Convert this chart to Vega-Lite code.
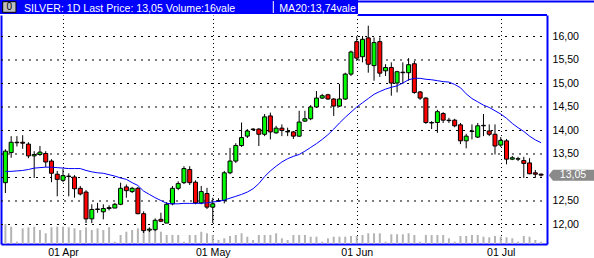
{
  "$schema": "https://vega.github.io/schema/vega-lite/v6.json",
  "width": 546,
  "height": 229,
  "autosize": {"type": "none"},
  "padding": {"left": 1, "top": 15, "right": 47, "bottom": 14},
  "background": "white",
  "config": {
    "view": {"stroke": null},
    "font": "Liberation Sans",
    "axisX": {"grid": true, "gridDash": [1, 3], "gridDashOffset": 0.5, "gridColor": "#000000", "gridWidth": 1, "gridOpacity": 1},
    "axisY": {"grid": false, "tickCount": 10}
  },
  "datasets": {
    "candles": [
      {"i":0,"o":12.89,"h":13.60,"l":12.67,"c":13.56,"v":20,"ma":13.13},
      {"i":1,"o":13.53,"h":13.88,"l":13.42,"c":13.75,"v":17.3,"ma":13.13},
      {"i":2,"o":13.74,"h":13.88,"l":13.66,"c":13.75,"v":2.3,"ma":13.14},
      {"i":3,"o":13.75,"h":13.90,"l":13.61,"c":13.73,"v":15.7,"ma":13.15},
      {"i":4,"o":13.71,"h":13.75,"l":13.41,"c":13.46,"v":16.7,"ma":13.17},
      {"i":5,"o":13.46,"h":13.56,"l":12.99,"c":13.49,"v":17.3,"ma":13.20},
      {"i":6,"o":13.49,"h":13.67,"l":13.46,"c":13.54,"v":14,"ma":13.21},
      {"i":7,"o":13.51,"h":13.56,"l":13.22,"c":13.33,"v":10.7,"ma":13.22},
      {"i":8,"o":13.35,"h":13.39,"l":12.90,"c":13.09,"v":16.7,"ma":13.22},
      {"i":9,"o":13.07,"h":13.14,"l":12.60,"c":12.96,"v":17.3,"ma":13.21},
      {"i":10,"o":12.94,"h":13.18,"l":12.90,"c":13.04,"v":17.3,"ma":13.20},
      {"i":11,"o":13.03,"h":13.09,"l":12.60,"c":13.02,"v":16.7,"ma":13.19},
      {"i":12,"o":13.01,"h":13.05,"l":12.57,"c":12.76,"v":15.7,"ma":13.19},
      {"i":13,"o":12.77,"h":12.82,"l":12.62,"c":12.65,"v":14,"ma":13.19},
      {"i":14,"o":12.69,"h":12.73,"l":12.03,"c":12.12,"v":16.7,"ma":13.15},
      {"i":15,"o":12.12,"h":12.43,"l":12.03,"c":12.32,"v":14,"ma":13.12},
      {"i":16,"o":12.32,"h":12.46,"l":12.25,"c":12.33,"v":15.7,"ma":13.10},
      {"i":17,"o":12.27,"h":12.43,"l":12.11,"c":12.34,"v":14,"ma":13.09},
      {"i":18,"o":12.34,"h":12.41,"l":12.30,"c":12.36,"v":16.7,"ma":13.06},
      {"i":19,"o":12.35,"h":12.46,"l":12.35,"c":12.43,"v":2.3,"ma":13.03},
      {"i":20,"o":12.43,"h":12.89,"l":12.41,"c":12.77,"v":9,"ma":12.99},
      {"i":21,"o":12.80,"h":12.85,"l":12.57,"c":12.72,"v":12.3,"ma":12.96},
      {"i":22,"o":12.70,"h":12.80,"l":12.67,"c":12.77,"v":14,"ma":12.89},
      {"i":23,"o":12.77,"h":12.80,"l":12.22,"c":12.23,"v":15.7,"ma":12.83},
      {"i":24,"o":12.23,"h":12.28,"l":11.82,"c":11.87,"v":15.7,"ma":12.71},
      {"i":25,"o":11.88,"h":11.94,"l":11.84,"c":11.90,"v":15.7,"ma":12.64},
      {"i":26,"o":11.89,"h":12.13,"l":11.86,"c":12.09,"v":14,"ma":12.57},
      {"i":27,"o":12.11,"h":12.25,"l":12.05,"c":12.07,"v":12.3,"ma":12.51},
      {"i":28,"o":12.03,"h":12.48,"l":12.03,"c":12.43,"v":9,"ma":12.45},
      {"i":29,"o":12.44,"h":12.82,"l":12.41,"c":12.77,"v":9,"ma":12.44},
      {"i":30,"o":12.77,"h":12.92,"l":12.73,"c":12.87,"v":9,"ma":12.44},
      {"i":31,"o":12.89,"h":13.24,"l":12.86,"c":13.19,"v":2.3,"ma":12.45},
      {"i":32,"o":13.17,"h":13.24,"l":12.84,"c":12.89,"v":9,"ma":12.45},
      {"i":33,"o":12.90,"h":12.94,"l":12.43,"c":12.46,"v":9,"ma":12.45},
      {"i":34,"o":12.46,"h":12.82,"l":12.43,"c":12.70,"v":12.3,"ma":12.45},
      {"i":35,"o":12.66,"h":12.78,"l":12.33,"c":12.37,"v":10.7,"ma":12.46},
      {"i":36,"o":12.37,"h":12.57,"l":12.03,"c":12.44,"v":9,"ma":12.48},
      {"i":37,"o":12.50,"h":12.56,"l":12.48,"c":12.51,"v":4,"ma":12.49},
      {"i":38,"o":12.51,"h":13.14,"l":12.45,"c":13.10,"v":5.7,"ma":12.52},
      {"i":39,"o":13.10,"h":13.63,"l":13.07,"c":13.35,"v":8,"ma":12.56},
      {"i":40,"o":13.35,"h":13.73,"l":13.31,"c":13.68,"v":9,"ma":12.60},
      {"i":41,"o":13.68,"h":14.17,"l":13.65,"c":13.85,"v":10.7,"ma":12.64},
      {"i":42,"o":13.88,"h":14.03,"l":13.84,"c":13.99,"v":7.3,"ma":12.69},
      {"i":43,"o":14.02,"h":14.05,"l":13.99,"c":14.03,"v":4,"ma":12.76},
      {"i":44,"o":14.03,"h":14.05,"l":13.67,"c":13.92,"v":9,"ma":12.87},
      {"i":45,"o":13.92,"h":14.35,"l":13.88,"c":14.29,"v":9,"ma":13.02},
      {"i":46,"o":14.31,"h":14.38,"l":13.81,"c":13.97,"v":9,"ma":13.14},
      {"i":47,"o":13.95,"h":14.10,"l":13.93,"c":14.05,"v":10.7,"ma":13.24},
      {"i":48,"o":14.05,"h":14.13,"l":13.88,"c":14.00,"v":5.7,"ma":13.33},
      {"i":49,"o":13.97,"h":14.06,"l":13.88,"c":13.98,"v":4,"ma":13.40},
      {"i":50,"o":13.97,"h":13.99,"l":13.82,"c":13.88,"v":9,"ma":13.45},
      {"i":51,"o":13.88,"h":14.42,"l":13.86,"c":14.18,"v":9,"ma":13.49},
      {"i":52,"o":14.20,"h":14.42,"l":14.18,"c":14.25,"v":9,"ma":13.56},
      {"i":53,"o":14.25,"h":14.54,"l":14.22,"c":14.50,"v":7.3,"ma":13.64},
      {"i":54,"o":14.50,"h":14.84,"l":14.48,"c":14.69,"v":7.3,"ma":13.72},
      {"i":55,"o":14.69,"h":14.78,"l":14.67,"c":14.74,"v":2.3,"ma":13.81},
      {"i":56,"o":14.76,"h":14.78,"l":14.65,"c":14.67,"v":5.7,"ma":13.91},
      {"i":57,"o":14.67,"h":14.69,"l":14.31,"c":14.52,"v":7.3,"ma":14.03},
      {"i":58,"o":14.52,"h":14.99,"l":14.50,"c":14.67,"v":7.3,"ma":14.16},
      {"i":59,"o":14.67,"h":15.23,"l":14.65,"c":15.20,"v":7.3,"ma":14.28},
      {"i":60,"o":15.20,"h":15.70,"l":15.16,"c":15.67,"v":8,"ma":14.39},
      {"i":61,"o":15.89,"h":16.01,"l":15.48,"c":15.54,"v":8,"ma":14.50},
      {"i":62,"o":15.57,"h":16.01,"l":15.45,"c":15.94,"v":9,"ma":14.59},
      {"i":63,"o":15.97,"h":16.23,"l":15.23,"c":15.41,"v":10.7,"ma":14.68},
      {"i":64,"o":15.38,"h":15.98,"l":15.06,"c":15.87,"v":10.7,"ma":14.77},
      {"i":65,"o":15.89,"h":15.98,"l":15.14,"c":15.22,"v":10.7,"ma":14.83},
      {"i":66,"o":15.27,"h":15.41,"l":15.16,"c":15.34,"v":2.3,"ma":14.88},
      {"i":67,"o":15.34,"h":15.45,"l":14.74,"c":15.01,"v":9.7,"ma":14.92},
      {"i":68,"o":15.01,"h":15.27,"l":14.81,"c":15.25,"v":9.7,"ma":14.95},
      {"i":69,"o":15.24,"h":15.45,"l":14.99,"c":15.23,"v":9.7,"ma":15.01},
      {"i":70,"o":15.23,"h":15.54,"l":15.06,"c":15.40,"v":10.7,"ma":15.08},
      {"i":71,"o":15.42,"h":15.48,"l":14.78,"c":14.81,"v":9,"ma":15.11},
      {"i":72,"o":14.82,"h":14.84,"l":14.65,"c":14.69,"v":2.3,"ma":15.11},
      {"i":73,"o":14.69,"h":14.71,"l":14.14,"c":14.17,"v":9,"ma":15.09},
      {"i":74,"o":14.17,"h":14.20,"l":14.03,"c":14.16,"v":9,"ma":15.08},
      {"i":75,"o":14.17,"h":14.44,"l":13.95,"c":14.40,"v":9,"ma":15.06},
      {"i":76,"o":14.36,"h":14.39,"l":14.16,"c":14.22,"v":9,"ma":15.04},
      {"i":77,"o":14.22,"h":14.27,"l":14.16,"c":14.21,"v":5.7,"ma":15.03},
      {"i":78,"o":14.22,"h":14.25,"l":14.07,"c":14.10,"v":2.3,"ma":14.98},
      {"i":79,"o":14.12,"h":14.16,"l":13.71,"c":13.78,"v":8,"ma":14.91},
      {"i":80,"o":13.78,"h":13.93,"l":13.62,"c":13.88,"v":8,"ma":14.78},
      {"i":81,"o":13.98,"h":14.13,"l":13.81,"c":13.99,"v":9,"ma":14.68},
      {"i":82,"o":13.86,"h":14.16,"l":13.84,"c":14.10,"v":9,"ma":14.61},
      {"i":83,"o":14.10,"h":14.35,"l":13.88,"c":14.11,"v":7.3,"ma":14.54},
      {"i":84,"o":13.99,"h":14.13,"l":13.88,"c":13.92,"v":6.7,"ma":14.49},
      {"i":85,"o":13.92,"h":14.13,"l":13.49,"c":13.67,"v":8,"ma":14.42},
      {"i":86,"o":13.69,"h":13.86,"l":13.65,"c":13.79,"v":7.3,"ma":14.35},
      {"i":87,"o":13.78,"h":13.82,"l":13.28,"c":13.39,"v":6.7,"ma":14.26},
      {"i":88,"o":13.39,"h":13.46,"l":13.37,"c":13.42,"v":5.7,"ma":14.15},
      {"i":89,"o":13.39,"h":13.44,"l":13.35,"c":13.40,"v":2.3,"ma":14.06},
      {"i":90,"o":13.36,"h":13.44,"l":12.99,"c":13.30,"v":8,"ma":13.98},
      {"i":91,"o":13.31,"h":13.41,"l":13.07,"c":13.08,"v":7.3,"ma":13.88},
      {"i":92,"o":13.10,"h":13.16,"l":12.99,"c":13.07,"v":4,"ma":13.80},
      {"i":93,"o":13.07,"h":13.09,"l":13.02,"c":13.05,"v":2.3,"ma":13.74}
    ],
    "gridvals": [{"g":12},{"g":12.5},{"g":13},{"g":13.5},{"g":14},{"g":14.5},{"g":15},{"g":15.5},{"g":16}]
  },
  "data": {"name": "candles"},
  "resolve": {"scale": {"y": "independent"}},
  "layer": [
    {
      "mark": {"type": "bar", "width": 2, "color": "#b4b4b4"},
      "encoding": {
        "x": {"field": "i", "type": "quantitative", "scale": {"domain": [-0.764, 94.028], "nice": false, "zero": false, "padding": 0},
              "axis": {"values": [10, 36, 61, 86], "labelExpr": "datum.value == 10 ? '01 Apr' : datum.value == 36 ? '01 May' : datum.value == 61 ? '01 Jun' : '01 Jul'",
                       "ticks": false, "grid": true, "gridDash": [1, 3], "gridDashOffset": 0.5, "gridColor": "#000000", "gridWidth": 1,
                       "domainColor": "#0000ff", "domainWidth": 2, "labelFont": "Liberation Sans", "labelFontSize": 10.6,
                       "labelColor": "#000000", "labelPadding": 3, "title": null, "labelFlush": false, "labelOverlap": false}},
        "y": {"field": "v", "type": "quantitative", "scale": {"domain": [0, 229], "nice": false, "zero": true, "padding": 0},
              "axis": {"orient": "left", "labels": false, "ticks": false, "grid": false, "title": null, "domainColor": "#0000ff", "domainWidth": 2}}
      }
    },
    {
      "layer": [
        {
          "data": {"name": "gridvals"},
          "mark": {"type": "rule", "color": "#000000", "strokeWidth": 1, "strokeDash": [2, 5], "opacity": 1},
          "encoding": {
            "x": {"datum": -0.764, "type": "quantitative", "scale": {"domain": [-0.764, 94.028], "nice": false, "zero": false, "padding": 0}},
            "x2": {"datum": 94.028},
            "y": {"field": "g", "type": "quantitative", "scale": {"domain": [11.5851, 16.4574], "nice": false, "zero": false, "padding": 0},
                  "axis": {"orient": "right", "values": [12, 12.5, 13, 13.5, 14, 14.5, 15, 15.5, 16], "tickCount": 10,
                           "labelExpr": "datum.value == 13 ? '' : replace(format(datum.value, '.2f'), '.', ',')",
                           "ticks": false, "grid": false,
                           "domainColor": "#0000ff", "domainWidth": 2, "labelFont": "Liberation Sans", "labelFontSize": 10.6,
                           "labelColor": "#000000", "labelPadding": 5, "title": null, "labelFlush": false, "labelOverlap": false}}
          }
        },
        {
          "mark": {"type": "rule", "color": "black", "strokeWidth": 1},
          "encoding": {
            "x": {"field": "i", "type": "quantitative"},
            "y": {"field": "l", "type": "quantitative",
                  "axis": {"orient": "right", "values": [12, 12.5, 13, 13.5, 14, 14.5, 15, 15.5, 16], "tickCount": 10,
                           "labelExpr": "datum.value == 13 ? '' : replace(format(datum.value, '.2f'), '.', ',')",
                           "ticks": false, "grid": false,
                           "domainColor": "#0000ff", "domainWidth": 2, "labelFont": "Liberation Sans", "labelFontSize": 10.6,
                           "labelColor": "#000000", "labelPadding": 5, "title": null, "labelFlush": false, "labelOverlap": false}},
            "y2": {"field": "h"}
          }
        },
        {
          "mark": {"type": "bar", "width": 4, "stroke": "black", "strokeWidth": 1},
          "encoding": {
            "x": {"field": "i", "type": "quantitative"},
            "y": {"field": "o", "type": "quantitative",
                  "axis": {"orient": "right", "values": [12, 12.5, 13, 13.5, 14, 14.5, 15, 15.5, 16], "tickCount": 10,
                           "labelExpr": "datum.value == 13 ? '' : replace(format(datum.value, '.2f'), '.', ',')",
                           "ticks": false, "grid": false,
                           "domainColor": "#0000ff", "domainWidth": 2, "labelFont": "Liberation Sans", "labelFontSize": 10.6,
                           "labelColor": "#000000", "labelPadding": 5, "title": null, "labelFlush": false, "labelOverlap": false}},
            "y2": {"field": "c"},
            "fill": {"condition": {"test": "datum.c >= datum.o", "value": "#00ff00"}, "value": "#ff0000"}
          }
        },
        {
          "mark": {"type": "line", "color": "#0000ff", "strokeWidth": 1},
          "encoding": {
            "x": {"field": "i", "type": "quantitative"},
            "y": {"field": "ma", "type": "quantitative",
                  "axis": {"orient": "right", "values": [12, 12.5, 13, 13.5, 14, 14.5, 15, 15.5, 16], "tickCount": 10,
                           "labelExpr": "datum.value == 13 ? '' : replace(format(datum.value, '.2f'), '.', ',')",
                           "ticks": false, "grid": false,
                           "domainColor": "#0000ff", "domainWidth": 2, "labelFont": "Liberation Sans", "labelFontSize": 10.6,
                           "labelColor": "#000000", "labelPadding": 5, "title": null, "labelFlush": false, "labelOverlap": false}}
          }
        },
        {
          "data": {"values": [{"t": "header"}]},
          "mark": {"type": "rect", "color": "#0000ff"},
          "encoding": {
            "x": {"datum": -0.94, "type": "quantitative"},
            "x2": {"datum": 61.22},
            "y": {"datum": 16.7765, "type": "quantitative"},
            "y2": {"datum": 16.4787}
          }
        },
        {
          "data": {"values": [{"t": "line"}]},
          "mark": {"type": "rule", "color": "#0000ff", "strokeWidth": 2},
          "encoding": {
            "x": {"datum": 61.22, "type": "quantitative"},
            "x2": {"datum": 102.19},
            "y": {"datum": 16.7446, "type": "quantitative"}
          }
        },
        {
          "data": {"values": [{"t": "frame"}]},
          "mark": {"type": "rule", "color": "#0000ff", "strokeWidth": 2},
          "encoding": {
            "x": {"datum": 61.22, "type": "quantitative"},
            "x2": {"datum": 94.028},
            "y": {"datum": 16.4574, "type": "quantitative"}
          }
        },
        {
          "data": {"values": [{"t": "icon"}]},
          "mark": {"type": "rect", "fill": "#c0c0c0", "stroke": "#000000", "strokeWidth": 1},
          "encoding": {
            "x": {"datum": -0.469, "type": "quantitative"},
            "x2": {"datum": 1.84},
            "y": {"datum": 16.7404, "type": "quantitative"},
            "y2": {"datum": 16.5148}
          }
        },
        {
          "data": {"values": [{"t": "0"}]},
          "mark": {"type": "text", "align": "center", "baseline": "middle", "color": "#000000", "fontSize": 10, "font": "Liberation Sans"},
          "encoding": {
            "x": {"datum": 0.677, "type": "quantitative"},
            "y": {"datum": 16.6276, "type": "quantitative"},
            "text": {"field": "t"}
          }
        },
        {
          "data": {"values": [{"t": "SILVER: 1D Last Price: 13,05 Volume:16vale"}]},
          "mark": {"type": "text", "align": "left", "baseline": "alphabetic", "color": "#ffffff", "fontSize": 10.6, "font": "Liberation Sans"},
          "encoding": {
            "x": {"datum": 3.23, "type": "quantitative"},
            "y": {"datum": 16.5148, "type": "quantitative"},
            "text": {"field": "t"}
          }
        },
        {
          "data": {"values": [{"t": "sep"}]},
          "mark": {"type": "rule", "color": "#ffffff", "strokeWidth": 1},
          "encoding": {
            "x": {"datum": 46.51, "type": "quantitative"},
            "y": {"datum": 16.7553, "type": "quantitative"},
            "y2": {"datum": 16.4999}
          }
        },
        {
          "data": {"values": [{"t": "MA20:13,74vale"}]},
          "mark": {"type": "text", "align": "left", "baseline": "alphabetic", "color": "#ffffff", "fontSize": 10.6, "font": "Liberation Sans"},
          "encoding": {
            "x": {"datum": 47.55, "type": "quantitative"},
            "y": {"datum": 16.5148, "type": "quantitative"},
            "text": {"field": "t"}
          }
        },
        {
          "data": {"values": [{"t": "tag"}]},
          "mark": {"type": "rect", "fill": "#8a8a8a"},
          "encoding": {
            "x": {"datum": 95.07, "type": "quantitative"},
            "x2": {"datum": 102.19},
            "y": {"datum": 13.167, "type": "quantitative"},
            "y2": {"datum": 12.933}
          }
        },
        {
          "data": {"values": [{"t": "arrow"}]},
          "mark": {"type": "point", "shape": "M 0.4 -1 L 0.4 1 L -0.4 0 Z", "filled": true, "fill": "#8a8a8a", "opacity": 1, "strokeWidth": 0, "size": 121},
          "encoding": {
            "x": {"datum": 94.69, "type": "quantitative"},
            "y": {"datum": 13.05, "type": "quantitative"}
          }
        },
        {
          "data": {"values": [{"t": "13,05"}]},
          "mark": {"type": "text", "align": "center", "baseline": "middle", "color": "#ffffff", "fontSize": 10.6, "font": "Liberation Sans"},
          "encoding": {
            "x": {"datum": 98.54, "type": "quantitative"},
            "y": {"datum": 13.05, "type": "quantitative"},
            "text": {"field": "t"}
          }
        }
      ]
    }
  ]
}
